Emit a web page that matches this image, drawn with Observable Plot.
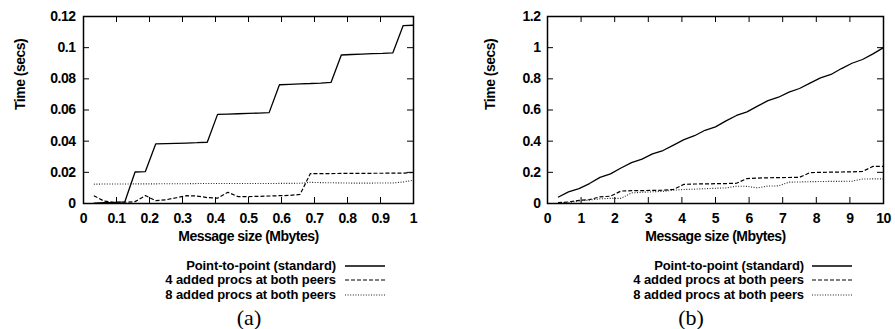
<!DOCTYPE html>
<html>
<head>
<meta charset="utf-8">
<script src="https://cdn.jsdelivr.net/npm/d3@7"></script>
<script src="https://cdn.jsdelivr.net/npm/@observablehq/plot@0.6"></script>
<style>
  body { margin: 0; background: #fff; }
  #wrap { position: relative; width: 895px; height: 329px; overflow: hidden; background: #fff;
          font-family: "Liberation Sans", Arial, sans-serif; }
  .panel { position: absolute; top: 0; }
  .lgrow { position: absolute; height: 14px; line-height: 14px; font-size: 13px; font-weight: bold;
           letter-spacing: -0.1px; white-space: nowrap; text-align: right; color: #000; }
  .lgline { position: absolute; }
  .cap { position: absolute; font-family: "Liberation Serif", "Times New Roman", serif; font-size: 22px;
         line-height: 22px; color: #000; transform: translateX(-50%); }
</style>
</head>
<body>
<div id="wrap"></div>
<script>
// ---------- Data ----------
const seriesNames = ["Point-to-point (standard)", "4 added procs at both peers", "8 added procs at both peers"];

// Panel (a): message size in Mbytes
const sizeA = [0.03125, 0.0625, 0.09375, 0.125, 0.15625, 0.1875, 0.21875, 0.25,
               0.28125, 0.3125, 0.34375, 0.375, 0.40625, 0.4375, 0.46875, 0.5,
               0.53125, 0.5625, 0.59375, 0.625, 0.65625, 0.6875, 0.71875, 0.75,
               0.78125, 0.8125, 0.84375, 0.875, 0.90625, 0.9375, 0.96875, 1.0];
const p2pA = [0.0003, 0.0005, 0.0007, 0.001, 0.0202, 0.0205, 0.0382, 0.0384,
              0.0386, 0.0388, 0.039, 0.0393, 0.0572, 0.0574, 0.0576, 0.0578,
              0.058, 0.0583, 0.0762, 0.0765, 0.0768, 0.077, 0.0773, 0.0777,
              0.0953, 0.0956, 0.0959, 0.0962, 0.0964, 0.0967, 0.1142, 0.1144];
const add4A = [0.005, 0.0015, 0.0008, 0.0008, 0.0012, 0.0051, 0.0018, 0.0024,
               0.0037, 0.005, 0.0048, 0.0038, 0.0034, 0.0072, 0.0044, 0.0044,
               0.0046, 0.0048, 0.005, 0.0052, 0.0058, 0.0192, 0.0192, 0.0192,
               0.0193, 0.0193, 0.0193, 0.0194, 0.0194, 0.0195, 0.0195, 0.0199];
const add8A = [0.0124, 0.0125, 0.0125, 0.0125, 0.0126, 0.0126, 0.0126, 0.0127,
               0.0127, 0.0127, 0.0128, 0.0128, 0.0128, 0.0128, 0.0128, 0.0128,
               0.0128, 0.0128, 0.0129, 0.0129, 0.013, 0.0136, 0.0134, 0.0133,
               0.0132, 0.0131, 0.0131, 0.0131, 0.0132, 0.0132, 0.0138, 0.0149];
const xTicksA = [0, 0.1, 0.2, 0.3, 0.4, 0.5, 0.6, 0.7, 0.8, 0.9, 1];
const xTickLabelsA = ["0", "0.1", "0.2", "0.3", "0.4", "0.5", "0.6", "0.7", "0.8", "0.9", "1"];
const yTicksA = [0, 0.02, 0.04, 0.06, 0.08, 0.1, 0.12];
const yTickLabelsA = ["0", "0.02", "0.04", "0.06", "0.08", "0.1", "0.12"];

// Panel (b)
const sizeB = [0.3125, 0.625, 0.9375, 1.25, 1.5625, 1.875, 2.1875, 2.5,
               2.8125, 3.125, 3.4375, 3.75, 4.0625, 4.375, 4.6875, 5.0,
               5.3125, 5.625, 5.9375, 6.25, 6.5625, 6.875, 7.1875, 7.5,
               7.8125, 8.125, 8.4375, 8.75, 9.0625, 9.375, 9.6875, 10.0];
const p2pB = [0.04, 0.075, 0.095, 0.128, 0.168, 0.19, 0.228, 0.262,
              0.285, 0.318, 0.34, 0.375, 0.41, 0.435, 0.47, 0.492,
              0.53, 0.565, 0.588, 0.625, 0.66, 0.682, 0.715, 0.738,
              0.772, 0.806, 0.828, 0.866, 0.9, 0.924, 0.96, 1.0];
const add4B = [0.005, 0.01, 0.02, 0.025, 0.043, 0.047, 0.08, 0.082,
               0.083, 0.084, 0.085, 0.09, 0.123, 0.125, 0.126, 0.127,
               0.128, 0.13, 0.16, 0.163, 0.165, 0.166, 0.167, 0.168,
               0.198, 0.2, 0.201, 0.202, 0.203, 0.206, 0.238, 0.238];
const add8B = [0.002, 0.006, 0.016, 0.022, 0.03, 0.033, 0.033, 0.068,
               0.072, 0.075, 0.078, 0.085, 0.09, 0.092, 0.095, 0.098,
               0.1, 0.111, 0.11, 0.1, 0.112, 0.113, 0.137, 0.138,
               0.14, 0.141, 0.142, 0.142, 0.143, 0.157, 0.158, 0.158];
const xTicksB = [0, 1, 2, 3, 4, 5, 6, 7, 8, 9, 10];
const xTickLabelsB = ["0", "1", "2", "3", "4", "5", "6", "7", "8", "9", "10"];
const yTicksB = [0, 0.2, 0.4, 0.6, 0.8, 1, 1.2];
const yTickLabelsB = ["0", "0.2", "0.4", "0.6", "0.8", "1", "1.2"];

const xTitle = "Message size (Mbytes)";
const yTitle = "Time (secs)";
const captions = ["(a)", "(b)"];

// ---------- Drawing ----------
const FONT = '"Liberation Sans", Arial, Helvetica, sans-serif';
const styles = [
  { stroke: "#000", strokeWidth: 1.3, dash: null },
  { stroke: "#000", strokeWidth: 1.2, dash: "4,2" },
  { stroke: "#222", strokeWidth: 1.1, dash: "1,1.6" }
];

function makePanel(cfg) {
  const W = cfg.width, H = 250;
  const ml = cfg.ml, mr = cfg.mr, mt = 16, mb = 47;
  const fw = W - ml - mr, fh = H - mt - mb;
  const T = 6;
  const xLab = new Map(cfg.xTicks.map((d, i) => [d, cfg.xLabels[i]]));
  const yLab = new Map(cfg.yTicks.map((d, i) => [d, cfg.yLabels[i]]));
  const series = [cfg.s1, cfg.s2, cfg.s3];
  const lineMarks = series.map((s, k) => Plot.line(cfg.x.map((x, i) => ({x, y: s[i]})), {
    x: "x", y: "y",
    stroke: styles[k].stroke, strokeWidth: styles[k].strokeWidth,
    strokeDasharray: styles[k].dash || undefined,
    strokeLinejoin: "miter", strokeLinecap: "butt"
  }));
  const txt = { fontSize: 14, fontWeight: "bold", fill: "#000" };
  return Plot.plot({
    width: W, height: H,
    marginLeft: ml, marginRight: mr, marginTop: mt, marginBottom: mb,
    x: { domain: cfg.xDomain },
    y: { domain: cfg.yDomain },
    style: { fontFamily: FONT, fontSize: "14px", fontWeight: "bold", color: "#000",
             background: "transparent", letterSpacing: "-0.5px" },
    marks: [
      Plot.tickX(cfg.xTicks, { x: d => d, insetTop: fh - T, stroke: "#000", strokeWidth: 1 }),
      Plot.tickX(cfg.xTicks, { x: d => d, insetBottom: fh - T, stroke: "#000", strokeWidth: 1 }),
      Plot.tickY(cfg.yTicks, { y: d => d, insetRight: fw - T, stroke: "#000", strokeWidth: 1 }),
      Plot.tickY(cfg.yTicks, { y: d => d, insetLeft: fw - T, stroke: "#000", strokeWidth: 1 }),
      Plot.axisX(cfg.xTicks, { tickSize: 0, tickPadding: 10, tickFormat: d => xLab.get(d), label: null, ...txt }),
      Plot.axisY(cfg.yTicks, { tickSize: 0, tickPadding: cfg.yPad, tickFormat: d => yLab.get(d), label: null, ...txt }),
      ...lineMarks,
      Plot.frame({ stroke: "#000", strokeWidth: 1.5 }),
      Plot.text([xTitle], { text: d => d, frameAnchor: "bottom", dy: 37, ...txt }),
      Plot.text([yTitle], { text: d => d, frameAnchor: "left", dx: cfg.yTitleDx, rotate: -90, ...txt })
    ]
  });
}

const wrap = document.getElementById("wrap");

const panels = [
  { left: 0, width: 447, ml: 83, mr: 34, yPad: 8, yTitleDx: -63,
    x: sizeA, s1: p2pA, s2: add4A, s3: add8A, xDomain: [0, 1], yDomain: [0, 0.12],
    xTicks: xTicksA, xLabels: xTickLabelsA, yTicks: yTicksA, yLabels: yTickLabelsA,
    textRight: 336, lineX1: 345, lineX2: 385, capX: 249 },
  { left: 447, width: 448, ml: 100, mr: 12, yPad: 7, yTitleDx: -57,
    x: sizeB, s1: p2pB, s2: add4B, s3: add8B, xDomain: [0, 10], yDomain: [0, 1.2],
    xTicks: xTicksB, xLabels: xTickLabelsB, yTicks: yTicksB, yLabels: yTickLabelsB,
    textRight: 804, lineX1: 812, lineX2: 852, capX: 691 }
];

const rowY = [265.5, 280, 294.5];

panels.forEach((cfg, p) => {
  const svg = makePanel(cfg);
  const holder = document.createElement("div");
  holder.className = "panel";
  holder.style.left = cfg.left + "px";
  holder.appendChild(svg);
  wrap.appendChild(holder);

  seriesNames.forEach((name, k) => {
    const row = document.createElement("div");
    row.className = "lgrow";
    row.style.right = (895 - cfg.textRight) + "px";
    row.style.top = (rowY[k] - 7) + "px";
    row.textContent = name;
    wrap.appendChild(row);

    const ns = "http://www.w3.org/2000/svg";
    const s = document.createElementNS(ns, "svg");
    s.setAttribute("class", "lgline");
    s.setAttribute("width", cfg.lineX2 - cfg.lineX1);
    s.setAttribute("height", 6);
    s.style.left = cfg.lineX1 + "px";
    s.style.top = (rowY[k] - 3) + "px";
    const l = document.createElementNS(ns, "line");
    l.setAttribute("x1", 0); l.setAttribute("x2", cfg.lineX2 - cfg.lineX1);
    l.setAttribute("y1", 3); l.setAttribute("y2", 3);
    l.setAttribute("stroke", styles[k].stroke);
    l.setAttribute("stroke-width", styles[k].strokeWidth);
    if (styles[k].dash) l.setAttribute("stroke-dasharray", styles[k].dash);
    s.appendChild(l);
    wrap.appendChild(s);
  });

  const cap = document.createElement("div");
  cap.className = "cap";
  cap.style.left = cfg.capX + "px";
  cap.style.top = "307px";
  cap.textContent = captions[p];
  wrap.appendChild(cap);
});
</script>
</body>
</html>
